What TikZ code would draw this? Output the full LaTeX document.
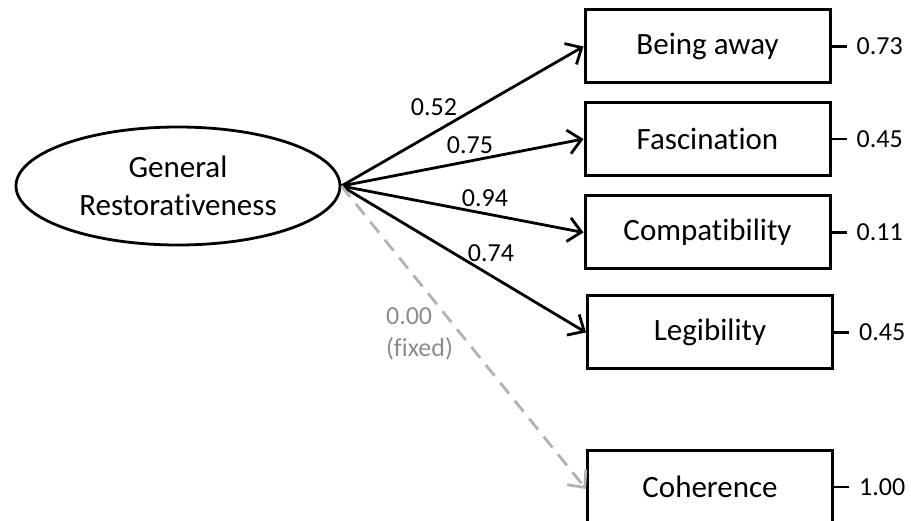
\documentclass[tikz,border=0pt]{standalone}
\usepackage{fontspec}
\setmainfont{Carlito}[Ligatures={NoCommon}]
\usetikzlibrary{arrows.meta,shapes.geometric}
\begin{document}
\begin{tikzpicture}[x=1pt,y=-1pt,
  big/.style={font=\fontsize{31pt}{37.8pt}\selectfont},
  num/.style={font=\fontsize{26pt}{32pt}\selectfont, inner sep=0pt},
  ind/.style={draw, line width=3pt, minimum width=245pt, minimum height=73pt, inner sep=0pt, big},
  lat/.style={draw, ellipse, line width=2.8pt, minimum width=324pt, minimum height=118pt, inner sep=0pt, big, align=center},
  load/.style={line width=2.8pt, -{Straight Barb[length=13pt,width=24pt,line width=2.8pt]}},
  fixedload/.style={line width=2.8pt, draw=black!30, dash pattern=on 14pt off 9pt, -{Straight Barb[length=13pt,width=24pt,line width=2.8pt]}},
  err/.style={line width=2.8pt}
]
\useasboundingbox (0,0) rectangle (911,521);
\node[lat] (gr) at (178,186) {General\\Restorativeness};
\node[ind] (b1) at (707.5,46.5) {Being away};
\node[ind] (b2) at (707.5,139) {Fascination};
\node[ind] (b3) at (707.5,232.5) {Compatibility};
\node[ind] (b4) at (710,332.5) {Legibility};
\node[ind] (b5) at (710,487) {Coherence};
\draw[load] (gr.east) -- (b1.west);
\draw[load] (gr.east) -- (b2.west);
\draw[load] (gr.east) -- (b3.west);
\draw[load] (gr.east) -- (b4.west);
\draw[fixedload] (gr.east) -- ([yshift=-2pt]b5.west);
\node[num] (l1) at (434,107) {0.52};
\node[num] (l2) at (470,145) {0.75};
\node[num] (l3) at (485,198) {0.94};
\node[num] (l4) at (491,253) {0.74};
\node[num, text=black!45, align=left] (l5) at (419.5,334) {0.00\\(fixed)};
\foreach \b/\v in {b1/0.73,b2/0.45,b3/0.11,b4/0.45,b5/1.00}{
  \coordinate (\b e) at ([xshift=15pt]\b.east);
  \draw[err] (\b.east) -- (\b e);
  \node[num, anchor=west] (\b n) at ([xshift=10pt]\b e) {\v};
}
\end{tikzpicture}
\end{document}
